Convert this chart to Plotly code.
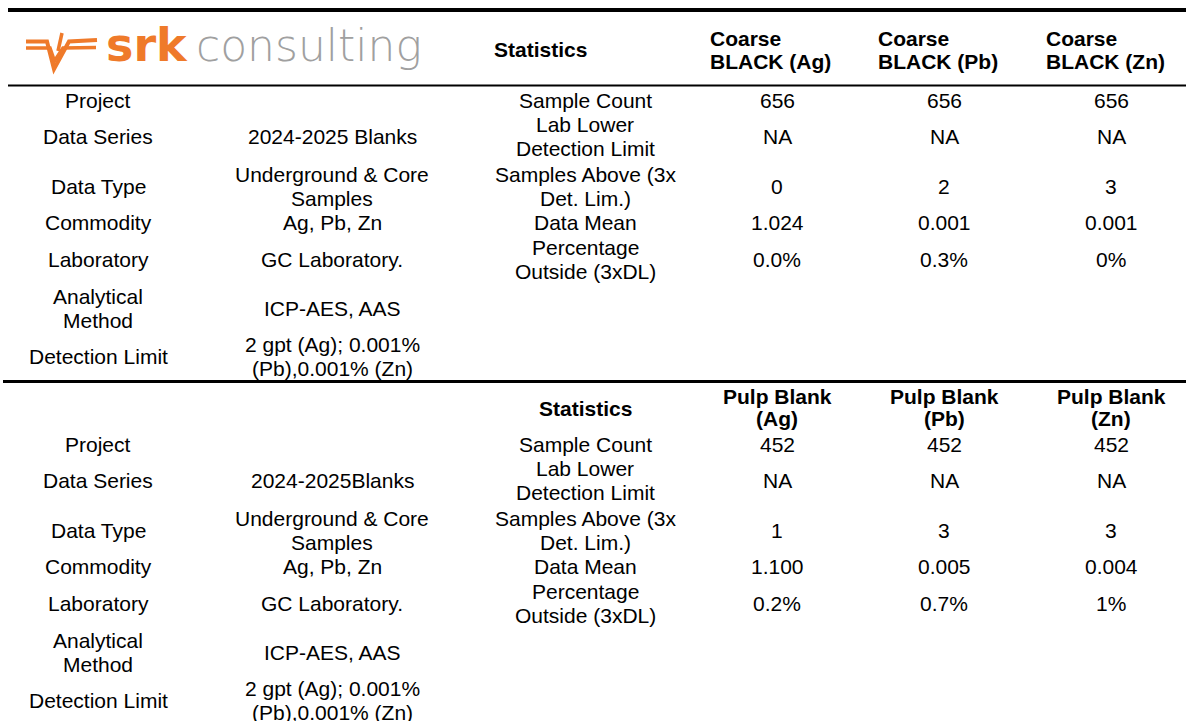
import plotly.graph_objects as go

# ---------------- data ----------------
info_labels = ["Project", "Data Series", "Data Type", "Commodity", "Laboratory",
               "Analytical\nMethod", "Detection Limit"]
info_values_coarse = ["", "2024-2025 Blanks", "Underground & Core\nSamples", "Ag, Pb, Zn",
                      "GC Laboratory.", "ICP-AES, AAS", "2 gpt (Ag); 0.001%\n(Pb),0.001% (Zn)"]
info_values_pulp = ["", "2024-2025Blanks", "Underground & Core\nSamples", "Ag, Pb, Zn",
                    "GC Laboratory.", "ICP-AES, AAS", "2 gpt (Ag); 0.001%\n(Pb),0.001% (Zn)"]
stat_labels = ["Sample Count", "Lab Lower\nDetection Limit", "Samples Above (3x\nDet. Lim.)",
               "Data Mean", "Percentage\nOutside (3xDL)"]

coarse_headers = ["Coarse\nBLACK (Ag)", "Coarse\nBLACK (Pb)", "Coarse\nBLACK (Zn)"]
coarse_ag = ["656", "NA", "0", "1.024", "0.0%"]
coarse_pb = ["656", "NA", "2", "0.001", "0.3%"]
coarse_zn = ["656", "NA", "3", "0.001", "0%"]

pulp_headers = ["Pulp Blank\n(Ag)", "Pulp Blank\n(Pb)", "Pulp Blank\n(Zn)"]
pulp_ag = ["452", "NA", "1", "1.100", "0.2%"]
pulp_pb = ["452", "NA", "3", "0.005", "0.7%"]
pulp_zn = ["452", "NA", "3", "0.004", "1%"]

# ---------------- layout constants ----------------
W, H = 1186, 721
FONT = "Liberation Sans, Arial, sans-serif"
FS = 21
col_label, col_value, col_stat = 98, 332, 585
col_num = [777, 944, 1111]
col_head_left = [708, 876, 1044]
row_y = [100, 136, 186, 222, 259, 308, 356]
offset = 344.5

annotations = []


def add_text(text, x, y, bold=False, spacing=24, xanchor="center", size=FS, color="black"):
    lines = text.split("\n")
    n = len(lines)
    for i, ln in enumerate(lines):
        if not ln:
            continue
        yy = y + (i - (n - 1) / 2) * spacing
        annotations.append(dict(
            x=x, y=yy, xref="x", yref="y", text=(f"<b>{ln}</b>" if bold else ln),
            showarrow=False, xanchor=xanchor, yanchor="middle",
            font=dict(family=FONT, size=size, color=color)))


def section(dy, values, cols):
    for i, lab in enumerate(info_labels):
        add_text(lab, col_label, row_y[i] + dy)
        add_text(values[i], col_value, row_y[i] + dy)
    for i, lab in enumerate(stat_labels):
        add_text(lab, col_stat, row_y[i] + dy)
        for c, series in enumerate(cols):
            add_text(series[i], col_num[c], row_y[i] + dy)


# top section
add_text("Statistics", 492, 49, bold=True, xanchor="left")
for c, h in enumerate(coarse_headers):
    add_text(h, col_head_left[c], 49.5, bold=True, spacing=23, xanchor="left")
section(0, info_values_coarse, [coarse_ag, coarse_pb, coarse_zn])

# bottom section
add_text("Statistics", col_stat, 408, bold=True)
for c, h in enumerate(pulp_headers):
    add_text(h, col_num[c], 407, bold=True, spacing=22)
section(offset, info_values_pulp, [pulp_ag, pulp_pb, pulp_zn])

# logo text
ORANGE = "#EF7A2A"
annotations.append(dict(x=104, y=45, xref="x", yref="y", text="<b>srk</b>", showarrow=False,
                        xanchor="left", yanchor="middle",
                        font=dict(family="DejaVu Sans", size=46, color=ORANGE, weight=900)))
annotations.append(dict(x=194, y=45, xref="x", yref="y", text="consulting", showarrow=False,
                        xanchor="left", yanchor="middle",
                        font=dict(family="DejaVu Sans", size=44, color="#A0A0A0", weight=200)))

shapes = [
    dict(type="line", xref="x", yref="y", x0=8, x1=W, y0=10, y1=10, line=dict(color="black", width=4)),
    dict(type="line", xref="x", yref="y", x0=8, x1=W, y0=85.5, y1=85.5, line=dict(color="black", width=2)),
    dict(type="line", xref="x", yref="y", x0=3, x1=W, y0=381.5, y1=381.5, line=dict(color="black", width=3)),
    # logo symbol
    dict(type="path", xref="x", yref="y", path="M 26,41.5 L 47,41.5 L 54,69 L 69,41.5 L 97,40",
         line=dict(color=ORANGE, width=4)),
    dict(type="path", xref="x", yref="y", path="M 26,48 L 50,48 L 54.5,61 L 63,48 L 96,47.5",
         line=dict(color=ORANGE, width=3.5)),
    dict(type="path", xref="x", yref="y", path="M 62,33 L 58,51",
         line=dict(color=ORANGE, width=3.5)),
]

fig = go.Figure()
fig.update_layout(
    width=W, height=H, margin=dict(l=0, r=0, t=0, b=0),
    paper_bgcolor="white", plot_bgcolor="white",
    xaxis=dict(range=[0, W], visible=False, fixedrange=True),
    yaxis=dict(range=[H, 0], visible=False, fixedrange=True),
    annotations=annotations, shapes=shapes, showlegend=False,
)
fig.write_html("out.html", config={"displayModeBar": False},
               post_script="document.body.style.margin='0';document.body.style.overflow='hidden';")
